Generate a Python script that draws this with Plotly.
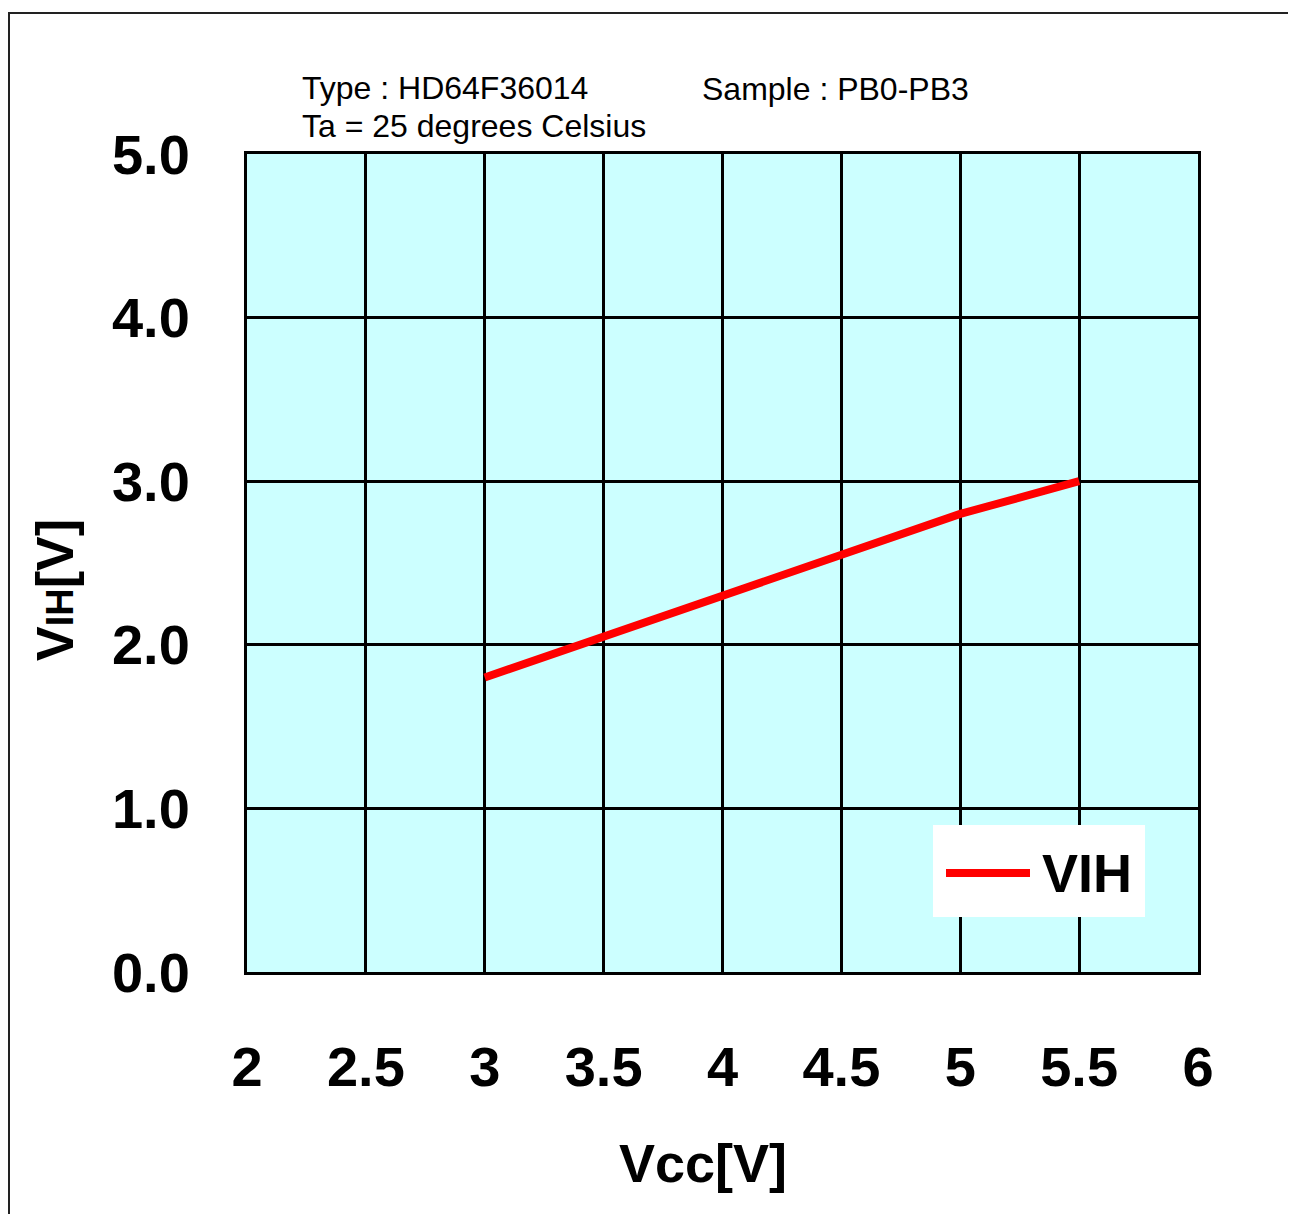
import plotly.graph_objects as go

vcc = [3.0, 3.5, 4.0, 4.5, 5.0, 5.5]
vih = [1.80, 2.05, 2.30, 2.56, 2.80, 3.00]
x_ticks = [2, 2.5, 3, 3.5, 4, 4.5, 5, 5.5, 6]
x_tick_labels = ["2", "2.5", "3", "3.5", "4", "4.5", "5", "5.5", "6"]
y_ticks = [0, 1, 2, 3, 4, 5]
y_tick_labels = ["0.0", "1.0", "2.0", "3.0", "4.0", "5.0"]
series_name = "VIH"

OFF = 8  # page offset of the plot div
W, H = 1280, 1206
PX0, PX1, PY0, PY1 = 247, 1198, 154, 972  # plot area on screen
L = PX0 - OFF
T = PY0 - OFF
pw, ph = PX1 - PX0, PY1 - PY0
R = W - L - pw
B = H - T - ph

def px(sx):
    return (sx - PX0) / pw

def py(sy):
    return (PY1 - sy) / ph

BOLD = "Liberation Sans, Arial, sans-serif"
REG = "Liberation Sans, Arial, sans-serif"

fig = go.Figure()
fig.add_trace(go.Scatter(
    x=vcc, y=vih, mode="lines", name=series_name,
    line=dict(color="#FF0000", width=8),
    showlegend=False,
))

fig.update_layout(
    width=W, height=H,
    margin=dict(l=L, r=R, t=T, b=B, pad=0),
    paper_bgcolor="white",
    plot_bgcolor="#CCFFFF",
    showlegend=False,
    xaxis=dict(
        range=[2, 6], tickvals=x_ticks, ticktext=x_tick_labels,
        showgrid=True, gridcolor="black", gridwidth=2.5,
        showline=True, linecolor="black", linewidth=3, mirror=True,
        zeroline=False,
        ticks="outside", ticklen=44, tickcolor="rgba(0,0,0,0)",
        tickfont=dict(family=BOLD, size=56, color="black", weight="bold"),
    ),
    yaxis=dict(
        range=[0, 5], tickvals=y_ticks, ticktext=y_tick_labels,
        showgrid=True, gridcolor="black", gridwidth=2.5,
        showline=True, linecolor="black", linewidth=3, mirror=True,
        zeroline=False,
        ticks="outside", ticklen=43, tickcolor="rgba(0,0,0,0)",
        tickfont=dict(family=BOLD, size=56, color="black", weight="bold"),
    ),
    font=dict(family=REG, color="black"),
)

fig.add_annotation(
    x=px(703), y=py(1163), xref="paper", yref="paper",
    text="<b>Vcc[V]</b>", showarrow=False,
    font=dict(family=BOLD, size=54, color="black"),
    xanchor="center", yanchor="middle",
)
fig.add_annotation(
    x=px(55), y=py(590), xref="paper", yref="paper",
    text="<b>V<span style='font-size:38px'>IH</span>[V]</b>", showarrow=False,
    textangle=-90,
    font=dict(family=BOLD, size=52, color="black"),
    xanchor="center", yanchor="middle",
)
fig.add_annotation(
    x=px(300), y=py(88), xref="paper", yref="paper",
    text="Type : HD64F36014", showarrow=False,
    font=dict(family=REG, size=32, color="black"),
    xanchor="left", yanchor="middle",
)
fig.add_annotation(
    x=px(300), y=py(126), xref="paper", yref="paper",
    text="Ta = 25 degrees Celsius", showarrow=False,
    font=dict(family=REG, size=32, color="black"),
    xanchor="left", yanchor="middle",
)
fig.add_annotation(
    x=px(700), y=py(89), xref="paper", yref="paper",
    text="Sample : PB0-PB3", showarrow=False,
    font=dict(family=REG, size=32, color="black"),
    xanchor="left", yanchor="middle",
)

# legend box
fig.add_shape(
    type="rect", xref="paper", yref="paper",
    x0=px(933), x1=px(1145), y0=py(917), y1=py(825),
    line=dict(width=0), fillcolor="white", layer="above",
)
fig.add_shape(
    type="line", xref="paper", yref="paper",
    x0=px(946), x1=px(1030), y0=py(873), y1=py(873),
    line=dict(color="#FF0000", width=8), layer="above",
)
fig.add_annotation(
    x=px(1040), y=py(873), xref="paper", yref="paper",
    text="<b>" + series_name + "</b>", showarrow=False,
    font=dict(family=BOLD, size=54, color="black"),
    xanchor="left", yanchor="middle",
)

# outer frame
fig.add_shape(
    type="rect", xref="paper", yref="paper",
    x0=px(9), x1=px(1320), y0=py(1260), y1=py(13),
    line=dict(color="#222222", width=2), fillcolor="rgba(0,0,0,0)",
    layer="below",
)

fig.write_html("out.html")
